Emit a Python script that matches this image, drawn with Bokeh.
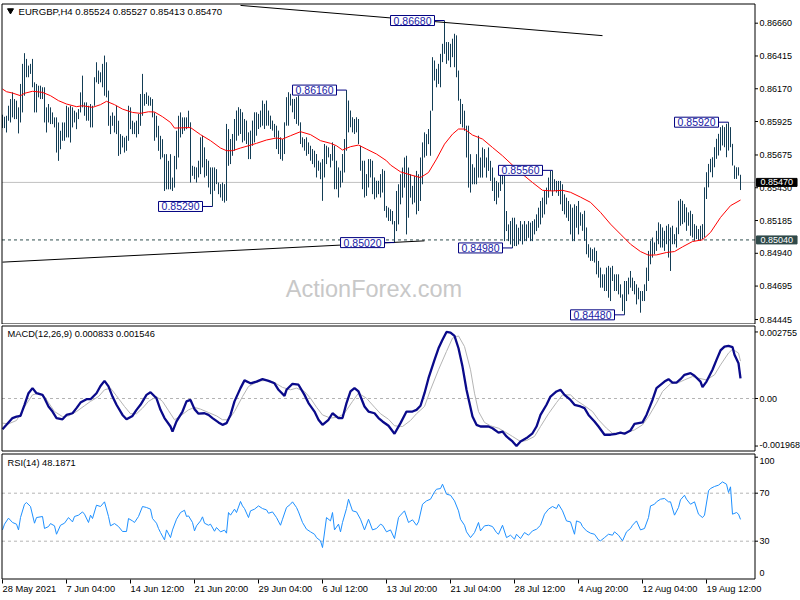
from bokeh.plotting import figure
from bokeh.models import Range1d, Label, ColumnDataSource, BoxAnnotation
from bokeh.layouts import column
from bokeh.embed import file_html
from bokeh.resources import INLINE
from bokeh.core.properties import value

# ---------------- data ----------------
symbol_title = "EURGBP,H4  0.85524 0.85527 0.85413 0.85470"
macd_title = "MACD(12,26,9) 0.000833 0.001546"
rsi_title = "RSI(14) 48.1871"
watermark = "ActionForex.com"

bar_high = [
 0.85976, 0.85961, 0.85968, 0.86043, 0.86093, 0.86143, 0.86093, 0.86081, 0.86031, 0.86206,
 0.86356, 0.86436, 0.86393, 0.86343, 0.86356, 0.86393, 0.86218, 0.86206, 0.86193, 0.86193,
 0.86181, 0.86181, 0.86031, 0.86056, 0.86031, 0.85993, 0.85956, 0.85956, 0.85918, 0.85856,
 0.85918, 0.85918, 0.86043, 0.86031, 0.86043, 0.86031, 0.86006, 0.85993, 0.86018, 0.86143,
 0.86268, 0.86068, 0.86068, 0.86043, 0.86056, 0.86043, 0.86256, 0.86368, 0.86306, 0.86293,
 0.86356, 0.86418, 0.86368, 0.86156, 0.85968, 0.85993, 0.85968, 0.86043, 0.85931, 0.85831,
 0.85818, 0.85806, 0.85818, 0.86043, 0.86031, 0.85931, 0.85918, 0.85931, 0.85981, 0.86131,
 0.86281, 0.86131, 0.86143, 0.86118, 0.86106, 0.86093, 0.85993, 0.85968, 0.85893, 0.85818,
 0.85793, 0.85681, 0.85681, 0.85631, 0.85681, 0.85506, 0.85668, 0.85856, 0.85968, 0.85993,
 0.85956, 0.85956, 0.85956, 0.86006, 0.85919, 0.85594, 0.85587, 0.85582, 0.85632, 0.85807,
 0.85819, 0.85732, 0.85644, 0.85632, 0.85582, 0.85582, 0.85582, 0.85569, 0.85469, 0.85457,
 0.85469, 0.85457, 0.85907, 0.85869, 0.85794, 0.85832, 0.85944, 0.86007, 0.86032, 0.86019,
 0.85994, 0.85944, 0.85932, 0.85844, 0.85857, 0.85932, 0.85994, 0.85994, 0.85982, 0.86007,
 0.86082, 0.86057, 0.86082, 0.86007, 0.85969, 0.85932, 0.85907, 0.85894, 0.85857, 0.85807,
 0.85794, 0.85919, 0.86107, 0.86144, 0.86132, 0.86094, 0.86094, 0.86107, 0.86119, 0.85919,
 0.85807, 0.85794, 0.85807, 0.85769, 0.85744, 0.85719, 0.85707, 0.85682, 0.85632, 0.85619,
 0.85644, 0.85757, 0.85744, 0.85732, 0.85682, 0.85769, 0.85744, 0.85632, 0.85582, 0.85557,
 0.85682, 0.85794, 0.86160, 0.86082, 0.86007, 0.85957, 0.85944, 0.85957, 0.85944, 0.85744,
 0.85632, 0.85632, 0.85532, 0.85644, 0.85644, 0.85632, 0.85507, 0.85482, 0.85482, 0.85532,
 0.85569, 0.85557, 0.85294, 0.85282, 0.85269, 0.85256, 0.85181, 0.85406, 0.85456, 0.85531,
 0.85581, 0.85656, 0.85669, 0.85581, 0.85531, 0.85444, 0.85519, 0.85556, 0.85531, 0.85656,
 0.85769, 0.85844, 0.85831, 0.85869, 0.86006, 0.86406, 0.86381, 0.86319, 0.86356, 0.86431,
 0.86506, 0.86680, 0.86519, 0.86519, 0.86506, 0.86544, 0.86581, 0.86569, 0.86306, 0.86094,
 0.86056, 0.86006, 0.85894, 0.85894, 0.85681, 0.85606, 0.85581, 0.85681, 0.85819, 0.85656,
 0.85731, 0.85719, 0.85656, 0.85731, 0.85631, 0.85581, 0.85506, 0.85481, 0.85469, 0.85531,
 0.85556, 0.85531, 0.85256, 0.85156, 0.85181, 0.85206, 0.85206, 0.85156, 0.85131, 0.85181,
 0.85156, 0.85181, 0.85156, 0.85181, 0.85169, 0.85181, 0.85194, 0.85231, 0.85281, 0.85331,
 0.85356, 0.85406, 0.85431, 0.85506, 0.85556, 0.85560, 0.85494, 0.85481, 0.85481, 0.85481,
 0.85456, 0.85381, 0.85356, 0.85331, 0.85306, 0.85281, 0.85306, 0.85294, 0.85331, 0.85246,
 0.85233, 0.85258, 0.85133, 0.85008, 0.84983, 0.84971, 0.84983, 0.84958, 0.84883, 0.84833,
 0.84783, 0.84783, 0.84833, 0.84846, 0.84833, 0.84846, 0.84783, 0.84783, 0.84783, 0.84708,
 0.84633, 0.84733, 0.84733, 0.84758, 0.84808, 0.84758, 0.84733, 0.84708, 0.84683, 0.84658,
 0.84658, 0.84708, 0.84833, 0.84958, 0.85033, 0.85058, 0.85021, 0.85108, 0.85171, 0.85158,
 0.85133, 0.85108, 0.85146, 0.85158, 0.85133, 0.85146, 0.85083, 0.85133, 0.85333, 0.85346,
 0.85333, 0.85308, 0.85283, 0.85246, 0.85258, 0.85233, 0.85158, 0.85146, 0.85121, 0.85146,
 0.85158, 0.85433, 0.85546, 0.85608, 0.85646, 0.85658, 0.85733, 0.85796, 0.85833, 0.85883,
 0.85896, 0.85883, 0.85908, 0.85920, 0.85883, 0.85758, 0.85596, 0.85583, 0.85583, 0.85527,
]
bar_low = [
 0.85876, 0.85876, 0.85843, 0.85931, 0.85918, 0.85956, 0.85943, 0.85943, 0.85836, 0.85918,
 0.85993, 0.86118, 0.86256, 0.86256, 0.86281, 0.86181, 0.85993, 0.85993, 0.86106, 0.86093,
 0.86093, 0.85918, 0.85843, 0.85918, 0.85906, 0.85906, 0.85881, 0.85693, 0.85631, 0.85718,
 0.85781, 0.85781, 0.85806, 0.85806, 0.85768, 0.85881, 0.85918, 0.85868, 0.85943, 0.85993,
 0.86031, 0.85968, 0.85931, 0.85931, 0.85881, 0.85881, 0.86043, 0.86218, 0.86206, 0.86218,
 0.86181, 0.86118, 0.86106, 0.85893, 0.85831, 0.85893, 0.85843, 0.85831, 0.85668, 0.85681,
 0.85731, 0.85693, 0.85706, 0.85781, 0.85868, 0.85831, 0.85831, 0.85806, 0.85831, 0.85893,
 0.85968, 0.86043, 0.86056, 0.86043, 0.86043, 0.85956, 0.85781, 0.85806, 0.85706, 0.85643,
 0.85656, 0.85406, 0.85418, 0.85418, 0.85418, 0.85406, 0.85431, 0.85568, 0.85656, 0.85806,
 0.85831, 0.85856, 0.85868, 0.85881, 0.85469, 0.85519, 0.85494, 0.85469, 0.85507, 0.85532,
 0.85582, 0.85507, 0.85519, 0.85432, 0.85382, 0.85290, 0.85407, 0.85457, 0.85382, 0.85357,
 0.85332, 0.85319, 0.85332, 0.85594, 0.85607, 0.85669, 0.85707, 0.85782, 0.85819, 0.85832,
 0.85769, 0.85782, 0.85757, 0.85644, 0.85644, 0.85744, 0.85769, 0.85819, 0.85869, 0.85882,
 0.85894, 0.85869, 0.85894, 0.85894, 0.85869, 0.85857, 0.85807, 0.85719, 0.85682, 0.85644,
 0.85632, 0.85682, 0.85894, 0.85894, 0.86044, 0.85994, 0.85944, 0.85907, 0.85894, 0.85757,
 0.85732, 0.85707, 0.85669, 0.85682, 0.85632, 0.85607, 0.85582, 0.85507, 0.85557, 0.85494,
 0.85332, 0.85507, 0.85607, 0.85657, 0.85582, 0.85632, 0.85419, 0.85419, 0.85357, 0.85432,
 0.85469, 0.85544, 0.85707, 0.85844, 0.85882, 0.85844, 0.85832, 0.85844, 0.85757, 0.85557,
 0.85419, 0.85357, 0.85369, 0.85432, 0.85507, 0.85382, 0.85344, 0.85357, 0.85382, 0.85357,
 0.85394, 0.85257, 0.85207, 0.85182, 0.85181, 0.85156, 0.85020, 0.85106, 0.85156, 0.85306,
 0.85356, 0.85431, 0.85081, 0.85206, 0.85356, 0.85306, 0.85319, 0.85231, 0.85256, 0.85331,
 0.85456, 0.85656, 0.85669, 0.85756, 0.85669, 0.86006, 0.86231, 0.86181, 0.86206, 0.86181,
 0.86369, 0.86431, 0.86356, 0.86381, 0.86331, 0.86406, 0.86331, 0.86256, 0.86081, 0.85906,
 0.85881, 0.85856, 0.85656, 0.85431, 0.85394, 0.85456, 0.85456, 0.85456, 0.85506, 0.85506,
 0.85506, 0.85581, 0.85506, 0.85556, 0.85481, 0.85406, 0.85331, 0.85306, 0.85356, 0.85406,
 0.85456, 0.85031, 0.85106, 0.85031, 0.85006, 0.84980, 0.84994, 0.84994, 0.85006, 0.85031,
 0.85006, 0.85031, 0.85031, 0.85056, 0.85031, 0.85031, 0.85081, 0.85106, 0.85131, 0.85156,
 0.85206, 0.85231, 0.85306, 0.85356, 0.85406, 0.85369, 0.85406, 0.85394, 0.85369, 0.85306,
 0.85256, 0.85231, 0.85206, 0.85181, 0.85081, 0.85031, 0.85031, 0.85131, 0.85081, 0.85146,
 0.85108, 0.85033, 0.84933, 0.84908, 0.84883, 0.84883, 0.84871, 0.84783, 0.84758, 0.84683,
 0.84683, 0.84658, 0.84658, 0.84608, 0.84583, 0.84733, 0.84658, 0.84658, 0.84633, 0.84608,
 0.84508, 0.84480, 0.84583, 0.84633, 0.84683, 0.84658, 0.84633, 0.84558, 0.84596, 0.84496,
 0.84583, 0.84583, 0.84658, 0.84733, 0.84858, 0.84908, 0.84933, 0.84958, 0.85008, 0.84983,
 0.84983, 0.84958, 0.85008, 0.84908, 0.84808, 0.85008, 0.85008, 0.84983, 0.85083, 0.85146,
 0.85158, 0.85171, 0.85108, 0.85146, 0.85071, 0.85058, 0.85033, 0.85046, 0.85033, 0.85033,
 0.85046, 0.85058, 0.85346, 0.85433, 0.85546, 0.85508, 0.85583, 0.85646, 0.85671, 0.85708,
 0.85746, 0.85733, 0.85658, 0.85708, 0.85733, 0.85596, 0.85496, 0.85496, 0.85521, 0.85413,
]

ma_idx = [0, 2, 5, 9, 11, 15, 20, 24, 28, 32, 37, 40, 45, 49, 52, 56, 60, 65, 69, 73,
          76, 80, 84, 86, 94, 99, 104, 109, 112, 115, 119, 123, 127, 132, 137, 140, 144, 149, 154, 159,
          164, 167, 170, 174, 178, 182, 187, 192, 194, 199, 204, 209, 213, 217, 221, 225, 228, 231, 235, 240,
          245, 250, 255, 260, 265, 270, 275, 280, 284, 289, 294, 299, 304, 309, 314, 319, 323, 327, 332, 336,
          340, 345, 350, 354, 359, 364, 369]
ma_val = [0.86168, 0.86148, 0.86138, 0.86118, 0.86136, 0.86151, 0.86143, 0.86118, 0.86081, 0.86056,
          0.86036, 0.86043, 0.86031, 0.86051, 0.86076, 0.86051, 0.86018, 0.85993, 0.85986, 0.85998,
          0.85996, 0.85961, 0.85918, 0.85876, 0.85880, 0.85827, 0.85782, 0.85727, 0.85707, 0.85707,
          0.85727, 0.85744, 0.85762, 0.85787, 0.85802, 0.85794, 0.85819, 0.85849, 0.85827, 0.85782,
          0.85762, 0.85744, 0.85712, 0.85737, 0.85749, 0.85719, 0.85682, 0.85632, 0.85600, 0.85549,
          0.85526, 0.85506, 0.85544, 0.85644, 0.85756, 0.85831, 0.85869, 0.85869, 0.85824, 0.85794,
          0.85731, 0.85669, 0.85599, 0.85531, 0.85469, 0.85411, 0.85406, 0.85411, 0.85396, 0.85360,
          0.85321, 0.85246, 0.85158, 0.85083, 0.85008, 0.84953, 0.84926, 0.84928, 0.84946, 0.84953,
          0.84988, 0.85028, 0.85041, 0.85096, 0.85208, 0.85296, 0.85338]

macd_idx = [0, 2, 5, 7, 9, 11, 13, 15, 17, 20, 21, 23, 25, 27, 30, 32, 35, 37, 39, 42,
            44, 47, 49, 51, 53, 55, 57, 60, 62, 65, 67, 69, 72, 74, 77, 79, 81, 84, 85, 87,
            90, 92, 94, 96, 98, 101, 103, 105, 108, 110, 112, 114, 116, 119, 121, 124, 127, 130, 133, 136,
            138, 141, 142, 145, 148, 151, 153, 156, 158, 160, 163, 165, 168, 170, 172, 174, 176, 178, 181, 183,
            186, 188, 190, 193, 196, 199, 202, 205, 207, 209, 211, 213, 216, 218, 220, 222, 224, 226, 228, 230,
            232, 235, 237, 239, 243, 245, 248, 250, 252, 255, 257, 259, 262, 265, 267, 269, 272, 274, 277, 279,
            281, 284, 286, 289, 291, 293, 296, 298, 301, 304, 307, 309, 311, 314, 316, 320, 322, 325, 327, 331,
            333, 335, 337, 339, 341, 344, 346, 349, 350, 352, 355, 357, 359, 361, 363, 365, 366, 368, 369]
macd_val = [-0.00127, -0.00109, -0.00081, -0.00075, -0.00072, -0.00026, 0.00022, 0.00043, 0.00022, 0.00015,
            0.00001, -0.00033, -0.00054, -0.00081, -0.00086, -0.00068, -0.00061, -0.00040, -0.00017, -0.00003,
            -0.00003, 0.00022, 0.00052, 0.00073, 0.00050, 0.00008, -0.00026, -0.00068, -0.00086, -0.00072,
            -0.00047, -0.00026, 0.00015, 0.00026, 0.00001, -0.00047, -0.00081, -0.00116, -0.00137, -0.00095,
            -0.00054, -0.00012, -0.00006, -0.00044, -0.00063, -0.00061, -0.00068, -0.00081, -0.00099, -0.00109,
            -0.00102, -0.00068, -0.00012, 0.00043, 0.00075, 0.00063, 0.00070, 0.00080, 0.00073, 0.00063,
            0.00036, 0.00011, 0.00036, 0.00061, 0.00057, 0.00015, -0.00019, -0.00054, -0.00088, -0.00109,
            -0.00088, -0.00061, -0.00081, -0.00081, -0.00019, 0.00029, 0.00043, 0.00029, -0.00033, -0.00054,
            -0.00061, -0.00081, -0.00095, -0.00113, -0.00146, -0.00102, -0.00054, -0.00054, -0.00047, -0.00030,
            0.00022, 0.00084, 0.00160, 0.00208, 0.00243, 0.002755, 0.00273, 0.00259, 0.00208, 0.00132,
            0.00036, -0.00075, -0.00109, -0.00116, -0.00116, -0.00123, -0.00141, -0.00137, -0.00157, -0.00178,
            -0.001968, -0.00178, -0.00164, -0.00144, -0.00116, -0.00068, -0.00026, 0.00008, 0.00029, 0.00036,
            0.00015, -0.00006, -0.00026, -0.00033, -0.00040, -0.00068, -0.00095, -0.00116, -0.00150, -0.00150,
            -0.00146, -0.00141, -0.00146, -0.00132, -0.00105, -0.00099, -0.00068, -0.00006, 0.00043, 0.00070,
            0.00080, 0.00066, 0.00066, 0.00080, 0.00098, 0.00105, 0.00094, 0.00070, 0.00047, 0.00070,
            0.00119, 0.00160, 0.00199, 0.00215, 0.00218, 0.00213, 0.00181, 0.00146, 0.000833]

signal_idx = [0, 3, 7, 9, 12, 15, 18, 21, 23, 26, 30, 33, 37, 41, 44, 48, 51, 54, 57, 61,
              64, 67, 70, 73, 77, 80, 83, 86, 89, 93, 96, 99, 103, 107, 110, 113, 116, 120, 123, 126,
              129, 133, 136, 140, 144, 147, 151, 154, 157, 160, 164, 168, 171, 175, 178, 182, 186, 189, 193, 196,
              200, 204, 207, 211, 214, 218, 222, 225, 228, 231, 234, 236, 238, 241, 244, 248, 251, 255, 259, 262,
              266, 269, 273, 277, 280, 284, 287, 291, 295, 298, 302, 305, 309, 312, 316, 320, 323, 327, 330, 334,
              338, 341, 345, 348, 352, 356, 359, 363, 365, 368, 369]
signal_val = [-0.00102, -0.00105, -0.00091, -0.00063, -0.00022, 0.00015, 0.00022, 0.00008, -0.00017, -0.00054,
              -0.00075, -0.00072, -0.00054, -0.00030, -0.00012, 0.00008, 0.00036, 0.00043, 0.00011, -0.00033,
              -0.00063, -0.00063, -0.00040, -0.00012, 0.00008, -0.00012, -0.00050, -0.00088, -0.00072, -0.00047,
              -0.00037, -0.00044, -0.00058, -0.00072, -0.00088, -0.00088, -0.00054, 0.00008, 0.00050, 0.00063,
              0.00073, 0.00075, 0.00066, 0.00046, 0.00036, 0.00043, 0.00029, 0.00001, -0.00036, -0.00068,
              -0.00081, -0.00077, -0.00061, -0.00012, 0.00022, 0.00001, -0.00036, -0.00063, -0.00086, -0.00113,
              -0.00116, -0.00091, -0.00063, -0.00033, 0.00036, 0.00119, 0.00195, 0.00250, 0.00259, 0.00215,
              0.00119, 0.00022, -0.00054, -0.00099, -0.00113, -0.00123, -0.00137, -0.00157, -0.00178, -0.00174,
              -0.00157, -0.00116, -0.00063, -0.00017, 0.00015, 0.00015, -0.00008, -0.00030, -0.00054, -0.00088,
              -0.00123, -0.00144, -0.00141, -0.00141, -0.00130, -0.00109, -0.00075, -0.00019, 0.00029, 0.00061,
              0.00066, 0.00077, 0.00091, 0.00084, 0.00077, 0.00098, 0.00139, 0.00188, 0.00204, 0.00188,
              0.001546]

rsi_idx = [0, 1, 3, 5, 7, 8, 9, 11, 12, 14, 16, 17, 20, 21, 23, 24, 26, 27, 29, 31,
           33, 35, 36, 38, 40, 41, 43, 44, 45, 47, 49, 51, 53, 54, 56, 58, 60, 62, 63, 65,
           66, 68, 70, 72, 74, 75, 77, 78, 79, 81, 82, 84, 85, 87, 89, 91, 92, 93, 95, 96,
           97, 99, 100, 101, 103, 104, 106, 107, 109, 111, 112, 113, 114, 116, 117, 119, 120, 121, 123, 124,
           126, 128, 130, 132, 133, 135, 137, 139, 140, 142, 144, 145, 147, 148, 150, 152, 154, 156, 157, 159,
           160, 162, 164, 165, 166, 168, 169, 170, 172, 173, 175, 177, 179, 181, 183, 185, 187, 189, 190, 192,
           194, 196, 198, 199, 201, 203, 205, 207, 208, 210, 212, 214, 216, 217, 219, 220, 222, 224, 226, 228,
           229, 231, 232, 234, 236, 238, 239, 241, 243, 245, 247, 248, 250, 252, 254, 256, 257, 259, 261, 263,
           265, 267, 269, 271, 273, 275, 277, 278, 280, 282, 284, 286, 287, 289, 290, 292, 294, 296, 298, 299,
           301, 303, 305, 306, 308, 310, 312, 314, 315, 317, 319, 321, 323, 324, 326, 327, 329, 331, 333, 334,
           336, 338, 339, 341, 342, 344, 346, 348, 350, 351, 353, 354, 356, 358, 360, 362, 363, 364, 365, 367,
           368, 369]
rsi_val = [39.4, 44.2, 49.2, 45.6, 44.2, 39.4, 49.7, 60.8, 62.2, 58.9,
           45.0, 49.7, 50.6, 40.6, 42.2, 44.7, 42.8, 35.8, 43.3, 45.0,
           49.7, 46.1, 50.6, 51.7, 54.4, 52.5, 45.6, 51.7, 48.9, 60.0,
           58.9, 62.8, 50.6, 42.8, 44.7, 42.2, 38.1, 38.1, 48.9, 46.9,
           45.6, 50.6, 58.9, 58.1, 56.7, 48.9, 45.0, 40.6, 37.2, 31.1,
           39.4, 33.0, 39.4, 48.3, 53.9, 55.8, 50.6, 51.1, 45.6, 38.6,
           42.8, 46.9, 50.3, 45.0, 43.3, 44.2, 38.3, 41.4, 37.8, 39.2,
           36.7, 53.9, 51.7, 56.7, 53.9, 63.1, 59.4, 57.2, 49.7, 55.3,
           56.7, 59.4, 57.2, 56.1, 53.3, 54.4, 49.7, 43.3, 48.3, 58.1,
           60.8, 62.8, 58.1, 54.4, 45.6, 40.0, 37.8, 35.8, 33.0, 30.3,
           24.7, 49.7, 46.9, 53.9, 39.4, 44.2, 37.8, 45.6, 57.2, 65.0,
           55.3, 54.4, 48.3, 39.4, 48.3, 39.4, 40.6, 44.2, 43.3, 37.8,
           39.4, 32.2, 49.7, 51.7, 55.3, 45.6, 47.8, 43.3, 46.1, 60.8,
           63.6, 65.0, 71.1, 73.3, 73.9, 77.5, 69.2, 68.3, 63.6, 55.3,
           48.3, 43.3, 37.8, 33.0, 37.2, 45.6, 38.6, 42.8, 43.3, 42.2,
           37.2, 35.8, 43.3, 33.0, 35.0, 31.7, 35.8, 32.2, 37.2, 35.0,
           38.6, 40.0, 43.3, 52.5, 56.7, 58.9, 57.2, 60.8, 55.3, 46.9,
           46.1, 35.8, 46.9, 45.6, 42.2, 38.6, 36.7, 35.8, 31.1, 30.3,
           33.0, 35.8, 35.0, 37.8, 35.0, 30.3, 37.8, 40.6, 43.3, 46.9,
           39.4, 40.6, 49.7, 59.4, 60.8, 62.8, 65.0, 65.6, 62.8, 62.8,
           51.7, 58.1, 64.5, 68.3, 65.0, 60.8, 62.8, 52.5, 49.7, 51.7,
           72.0, 73.9, 75.6, 76.7, 79.4, 77.5, 70.6, 75.3, 52.5, 53.9,
           52.5, 48.1871]

tick_idx = [0, 32, 64, 96, 128, 160, 192, 224, 256, 288, 320, 352]
tick_labels = ["28 May 2021", "7 Jun 04:00", "14 Jun 12:00", "21 Jun 20:00", "29 Jun 04:00",
               "6 Jul 12:00", "13 Jul 20:00", "21 Jul 04:00", "28 Jul 12:00", "4 Aug 20:00",
               "12 Aug 04:00", "19 Aug 12:00"]
price_ticks = [0.86660, 0.86415, 0.86170, 0.85925, 0.85675, 0.85430, 0.85185, 0.84940, 0.84695, 0.84445]
macd_ticks = [0.002755, 0.0, -0.001968]
macd_tick_labels = ["0.002755", "0.00", "-0.001968"]
rsi_ticks = [100, 70, 30, 0]
rsi_levels = [30, 70]

swing_idx = [221, 172, 105, 196, 255, 275, 311, 363]
swing_price = [0.86680, 0.86160, 0.85290, 0.85020, 0.84980, 0.85560, 0.84480, 0.85920]

upper_trend_idx = [119, 300]
upper_trend_price = [0.86793, 0.86567]
lower_trend_idx = [0, 211]
lower_trend_price = [0.84874, 0.85033]

last_price = 0.85470
support_price = 0.85040

# ---------------- layout helpers (page pixels -> data) ----------------
FONT = "Liberation Sans"
AX_FS = "9px"
FS = "9.3px"
BAR = "#133d55"
NAVY = "#000080"
W = 800


def xi(px):          # page x pixel -> bar index
    return (px - 2.0) / 2.0


def main_v(py):      # page y pixel -> price
    return 0.86660 - (py - 22.7) * 0.00007475


def macd_v(py):
    return (398.0 - py) * 0.0000414


def rsi_v(py):
    return 70.0 - (py - 492.7) / 1.2


x_range = Range1d(xi(0), xi(W))
PANEL_L, PANEL_R = xi(1.5), xi(754.5)


def make_fig(height, y_range):
    f = figure(width=W, height=height, x_range=x_range, y_range=y_range,
               output_backend="svg", toolbar_location=None,
               x_axis_location=None, y_axis_location=None,
               min_border=0, min_border_left=0, min_border_right=0,
               min_border_top=0, min_border_bottom=0)
    f.outline_line_color = None
    f.grid.grid_line_color = None
    f.background_fill_color = "white"
    f.border_fill_color = "white"
    return f


def panel_box(f, top, bottom):
    f.add_layout(BoxAnnotation(left=PANEL_L, right=PANEL_R, top=top, bottom=bottom,
                               fill_color=None, line_color="black", line_width=1, line_alpha=1))


def right_axis(f, ticks, labels, label_pos):
    f.segment(x0=[PANEL_R] * len(ticks), y0=ticks, x1=[xi(757.5)] * len(ticks), y1=ticks,
              line_color="black", line_width=1)
    f.text(x=[xi(759)] * len(ticks), y=label_pos, text=labels, text_font=value(FONT),
           text_font_size=value(AX_FS), text_color="black", text_align="left",
           text_baseline="middle")


def hline(f, y, color, dash="solid"):
    f.line([PANEL_L, PANEL_R], [y, y], line_color=color, line_width=1, line_dash=dash)


# ---------------- main price panel (page y 0..324) ----------------
p1 = make_fig(324, Range1d(main_v(324), main_v(0)))
p1.text(x=[xi(373.5)], y=[main_v(288)], text=[watermark], text_font=value(FONT),
        text_font_size=value("23.5px"), text_color="#c8c8c8", text_align="center",
        text_baseline="middle")
hline(p1, last_price, "#c0c0c0")
hline(p1, support_price, "#2f4f4f", "3 3")

bars = ColumnDataSource(dict(i=list(range(len(bar_high))), high=bar_high, low=bar_low))
p1.segment(x0="i", y0="low", x1="i", y1="high", source=bars, line_color=BAR, line_width=1)
p1.line(ma_idx, ma_val, line_color="#ff0000", line_width=1)
p1.line(upper_trend_idx, upper_trend_price, line_color="black", line_width=1)
p1.line(lower_trend_idx, lower_trend_price, line_color="black", line_width=1)

for i, pr in zip(swing_idx, swing_price):
    p1.segment(x0=[i - 5], y0=[pr], x1=[i], y1=[pr], line_color=NAVY, line_width=1)
    p1.add_layout(Label(x=i - 5, y=pr, text=f"{pr:.5f}", text_align="right", text_baseline="middle",
                        text_font=FONT, text_font_size="10.5px", text_color="#1a1aa6",
                        background_fill_color="white", border_line_color=NAVY, border_line_width=1,
                        padding=(3, 1)))

panel_box(p1, main_v(3.5), main_v(323.5))
right_axis(p1, price_ticks, [f"{t:.5f}" for t in price_ticks], price_ticks)

p1.add_layout(Label(x=xi(756), y=last_price, text=f"{last_price:.5f}", text_align="left",
                    text_baseline="middle", text_font=FONT, text_font_size=AX_FS, text_color="white",
                    background_fill_color="black", border_line_color="black", padding=(4, 1)))
p1.add_layout(Label(x=xi(756), y=support_price, text=f"{support_price:.5f}", text_align="left",
                    text_baseline="middle", text_font=FONT, text_font_size=AX_FS, text_color="white",
                    background_fill_color="#2f4a4a", border_line_color="#2f4a4a", padding=(4, 1)))

p1.scatter([xi(10)], [main_v(10)], marker="inverted_triangle", size=6,
           fill_color="black", line_color="black")
p1.add_layout(Label(x=xi(18), y=main_v(10.5), text=symbol_title, text_baseline="middle",
                    text_font=FONT, text_font_size="9.6px", text_color="black"))

# ---------------- MACD panel (page y 324..452) ----------------
p2 = make_fig(128, Range1d(macd_v(452), macd_v(324)))
hline(p2, 0.0, "#b4b4b4", "3 3")
p2.line(signal_idx, signal_val, line_color="#b4b4b4", line_width=1)
p2.line(macd_idx, macd_val, line_color="#0a0a8a", line_width=2.3)
panel_box(p2, macd_v(325.5), macd_v(450.5))
macd_lab_pos = [min(max(t, macd_v(444)), macd_v(332)) for t in macd_ticks]
right_axis(p2, macd_ticks, macd_tick_labels, macd_lab_pos)
p2.add_layout(Label(x=xi(7), y=macd_v(333), text=macd_title, text_baseline="middle",
                    text_font=FONT, text_font_size=FS, text_color="black"))

# ---------------- RSI panel + time axis (page y 452..600) ----------------
p3 = make_fig(148, Range1d(rsi_v(600), rsi_v(452)))
for lv in rsi_levels:
    hline(p3, lv, "#b4b4b4", "3 3")
p3.line(rsi_idx, rsi_val, line_color="#1e90ff", line_width=1)
panel_box(p3, rsi_v(453.5), rsi_v(578.5))
rsi_lab_pos = [min(max(t, rsi_v(572)), rsi_v(460)) for t in rsi_ticks]
right_axis(p3, [t for t in rsi_ticks if t > 0], [str(t) for t in rsi_ticks if t > 0],
           [lp for t, lp in zip(rsi_ticks, rsi_lab_pos) if t > 0])
p3.text(x=[xi(759)], y=[rsi_lab_pos[-1]], text=[str(rsi_ticks[-1])], text_font=value(FONT),
        text_font_size=value(AX_FS), text_color="black", text_align="left", text_baseline="middle")
p3.add_layout(Label(x=xi(7), y=rsi_v(462.7), text=rsi_title, text_baseline="middle",
                    text_font=FONT, text_font_size=FS, text_color="black"))

# time axis drawn under the RSI panel
p3.segment(x0=tick_idx, y0=[rsi_v(579)] * len(tick_idx), x1=tick_idx, y1=[rsi_v(583)] * len(tick_idx),
           line_color="black", line_width=1)
p3.text(x=tick_idx, y=[rsi_v(588.5)] * len(tick_idx), text=tick_labels, text_font=value(FONT),
        text_font_size=value(FS), text_color="black", text_align="left", text_baseline="middle")

layout = column(p1, p2, p3, spacing=0)
open("out.html", "w").write(file_html(layout, INLINE))
